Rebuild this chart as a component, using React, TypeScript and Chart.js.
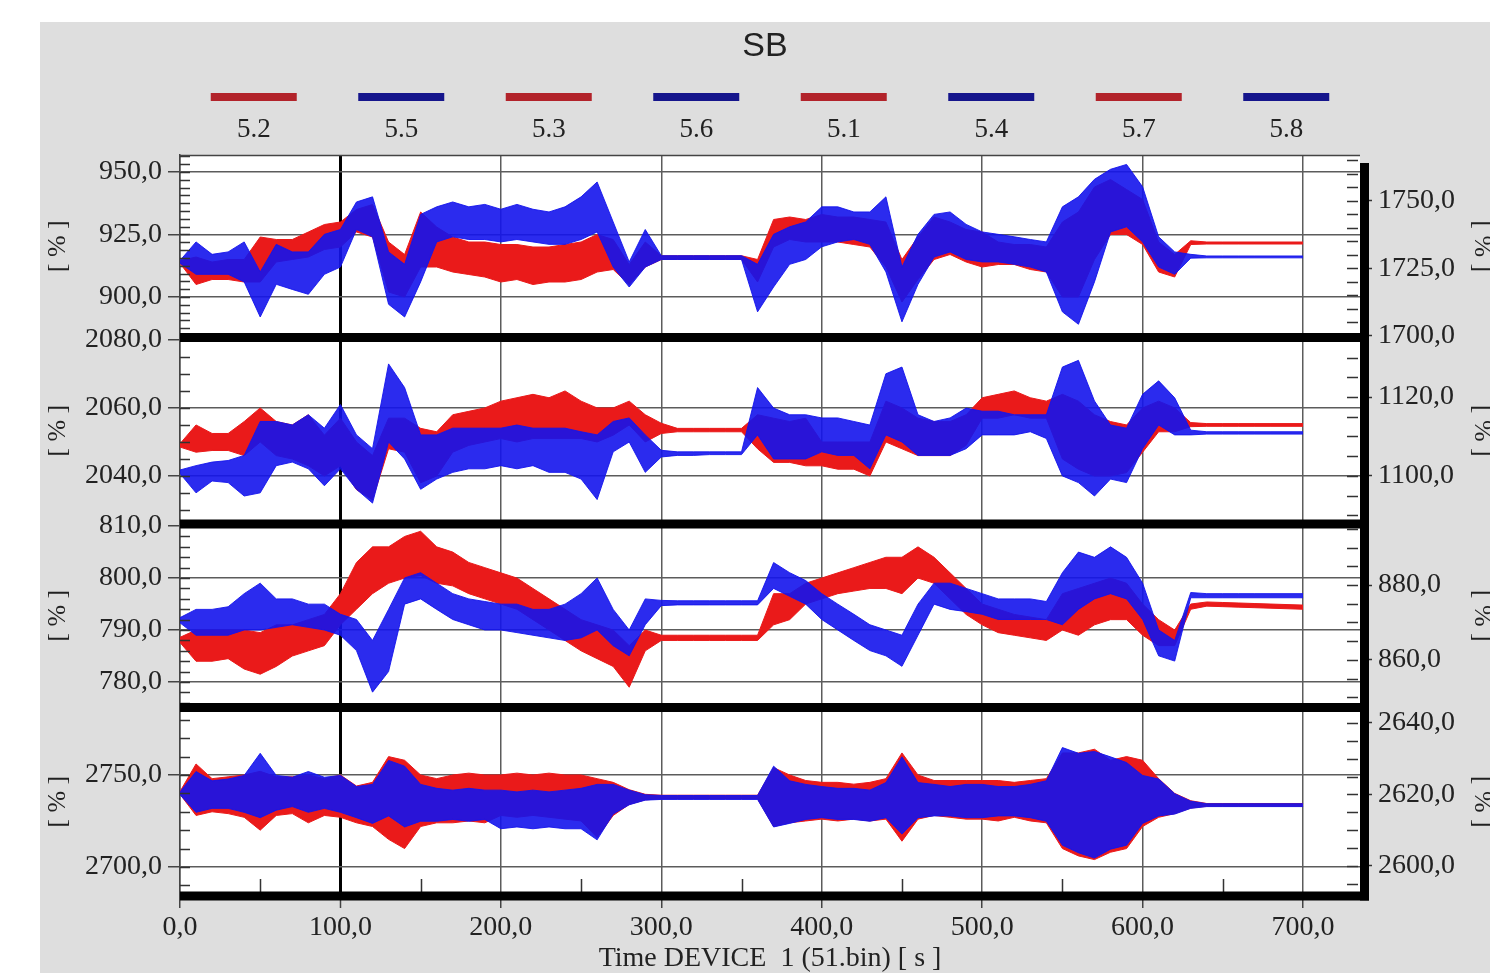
import React, { useEffect, useRef } from 'react';
import { Chart, registerables } from 'chart.js';

Chart.register(...registerables);

// ---------- DATA (min/max envelopes per 10 s) ----------
const TIME = [0,10,20,30,40,50,60,70,80,90,100,110,120,130,140,150,160,170,180,190,200,210,220,230,240,250,260,270,280,290,300,310,320,330,340,350,360,370,380,390,400,410,420,430,440,450,460,470,480,490,500,510,520,530,540,550,560,570,580,590,600,610,620,630,640,650,660,670,680,690,700];

const X_TICKS = [0, 100, 200, 300, 400, 500, 600, 700];

// Panel 1: 5.2 (red, left axis) / 5.5 (blue, right axis)
const P1_LEFT_TICKS = [900, 925, 950];
const P1_RIGHT_TICKS = [1700, 1725, 1750];
const S52_LO = [913.5,905,907,907,906,906,914,915,916,919,
920,926,924,902,900,912,912,910,909,908,
906,907,905,906,906,907,910,911,905,912,
915,915,915,915,915,915,906,920,923,922,
922,922,921,920,912,898,907,915,917,914,
912,913,913,911,910,900,900,915,925,925,
921,910,908,921,921.2,921.2,921.2,921.2,921.2,921.2,921.2];
const S52_HI = [914.5,916,914,915,915,924,923,923,926,929,
930,935,937,922,917,934,928,924,922,922,
921,921,920,920,921,922,925,923,913,922,
916.5,916.5,916.5,916.5,916.5,916.5,915,931,932,931,
933,932,932,931,930,915,924,932,930,927,
926,922,921,921,920,930,934,944,947,943,
939,922,917,922.5,922,922,922,922,922,922,922];
const S55_LO = [1726.9,1722.8,1722.8,1722.8,1720.0,1707.0,1719.1,1717.2,1715.4,1722.8,
1725.5,1739.4,1736.7,1711.7,1707.0,1720.0,1734.8,1736.7,1735.7,1735.7,
1734.8,1735.7,1734.8,1733.9,1733.9,1735.7,1738.5,1725.5,1718.1,1725.5,
1728.3,1728.3,1728.3,1728.3,1728.3,1728.3,1708.9,1718.1,1726.5,1728.3,
1733.0,1734.8,1735.7,1733.9,1723.7,1705.2,1719.1,1729.2,1731.1,1728.3,
1727.4,1727.4,1726.5,1725.5,1723.7,1708.9,1704.3,1720.0,1738.5,1740.4,
1734.8,1725.5,1722.8,1728.8,1728.9,1728.9,1728.9,1728.9,1728.9,1728.9,1728.9];
const S55_HI = [1727.9,1734.8,1730.2,1731.1,1734.8,1723.7,1733.9,1731.1,1731.1,1737.6,
1739.4,1749.6,1751.5,1731.1,1726.5,1745.0,1747.8,1749.6,1747.8,1748.7,
1746.9,1748.7,1746.9,1745.9,1747.8,1751.5,1757.0,1742.2,1727.4,1739.4,
1729.7,1729.7,1729.7,1729.7,1729.7,1729.7,1726.5,1737.6,1740.4,1742.2,
1747.8,1747.8,1745.9,1745.9,1751.5,1725.5,1737.6,1745.0,1745.9,1741.3,
1738.5,1737.6,1736.7,1735.7,1734.8,1747.8,1751.5,1758.0,1761.7,1763.5,
1755.2,1736.7,1731.1,1730.2,1729.6,1729.6,1729.6,1729.6,1729.6,1729.6,1729.6];

// Panel 2: 5.3 (red, left) / 5.6 (blue, right)
const P2_LEFT_TICKS = [2040, 2060, 2080];
const P2_RIGHT_TICKS = [1100, 1120];
const S53_LO = [2048.5,2047,2047.5,2047.5,2046,2050,2046,2045,2043,2040,
2043,2036,2033,2048,2047,2038,2040,2047,2049,2050,
2051,2050,2051,2051,2051,2051,2050,2052,2055,2050,
2052.5,2053,2053,2053,2053,2053,2048,2044,2044,2043,
2043,2042,2042,2040,2050,2048,2046,2046,2046,2049,
2057,2057,2058,2057,2057,2045,2042,2040,2040,2041,
2047,2053,2053,2054.5,2054.6,2054.6,2054.6,2054.6,2054.6,2054.6,2054.6];
const S53_HI = [2049.5,2055,2052.5,2052.5,2056,2060,2056,2055,2058,2052,
2057,2050,2046,2057,2057,2054,2053,2058,2059,2060,
2062,2063,2064,2063,2065,2062,2060,2060,2062,2058,
2055.5,2054,2054,2054,2054,2054,2058,2057,2056,2057,
2050,2050,2050,2050,2062,2060,2057,2056,2056,2058,
2063,2064,2065,2063,2062,2064,2062,2058,2056,2055,
2060,2062,2060,2055.7,2055.4,2055.4,2055.4,2055.4,2055.4,2055.4,2055.4];
const S56_LO = [1100.6,1095.7,1098.7,1098.3,1094.9,1095.7,1102.6,1103.5,1101.8,1097.5,
1101.8,1096.6,1093.1,1108.6,1104.3,1096.6,1099.2,1100.9,1101.8,1101.8,
1102.6,1101.8,1102.6,1100.9,1100.9,1099.2,1094.0,1106.1,1108.6,1100.9,
1104.8,1105.2,1105.2,1105.4,1105.4,1105.4,1110.4,1104.3,1104.3,1104.3,
1106.1,1105.2,1105.2,1101.8,1110.4,1108.6,1105.2,1105.2,1105.2,1106.9,
1110.4,1110.4,1110.4,1111.2,1109.5,1100.0,1098.3,1094.9,1099.2,1098.3,
1106.9,1112.9,1110.4,1110.4,1110.6,1110.6,1110.6,1110.6,1110.6,1110.6,1110.6];
const S56_HI = [1101.5,1102.6,1103.5,1103.9,1105.2,1113.8,1113.8,1112.9,1115.5,1112.1,
1118.1,1110.4,1106.9,1128.4,1122.4,1110.4,1110.4,1112.1,1112.1,1112.1,
1112.1,1112.9,1112.1,1112.1,1112.1,1111.2,1110.4,1113.8,1114.7,1110.4,
1106.5,1106.1,1106.1,1106.1,1106.1,1106.1,1122.4,1117.2,1115.5,1115.5,
1114.7,1114.7,1113.8,1112.9,1125.9,1127.6,1115.5,1113.8,1114.7,1117.2,
1116.4,1116.4,1115.5,1115.5,1115.5,1127.6,1129.3,1119.0,1112.9,1112.1,
1120.7,1124.1,1119.8,1111.6,1111.2,1111.2,1111.2,1111.2,1111.2,1111.2,1111.2];

// Panel 3: 5.1 (red, left) / 5.4 (blue, right)
const P3_LEFT_TICKS = [780, 790, 800, 810];
const P3_RIGHT_TICKS = [860, 880];
const S51_LO = [787.6,784,784,784.5,782.5,781.5,783,785,786,787,
791,794,797,799,800,800.5,799,798.5,797,796,
795,794,792,790,788,786,784.5,783,779,786,
788,788,788,788,788,788,788,791,792,795,
796,797,797.5,798,798,797,800,799,796,793,
791,789.5,789,788.5,788,790,789,791,792,792,
789,787,787,794,794.6,794.5,794.4,794.3,794.2,794.1,794.0];
const S51_HI = [788.6,790,790,790,790,789.5,791,791,792,793,
797,803,806,806,808,809,806,805,803,802,
801,800,798,796,794,792,791,790,787,790,
789,789,789,789,789,789,789,797,797,799,
800,801,802,803,804,804,806,804,801,798,
795,794,793,792.5,792,797,798,799,800,799,
795,792,790,795,795.4,795.3,795.2,795.1,795.0,794.9,794.8];
const S54_LO = [869.9,866.6,866.6,866.6,868.0,868.0,868.7,869.4,868.7,868.0,
866.6,862.5,851.4,856.9,874.9,876.3,873.5,870.8,869.4,868.0,
868.0,867.3,866.6,865.9,865.2,865.9,868.0,863.8,861.1,869.4,
874.5,874.7,874.7,874.7,874.7,874.7,874.7,879.1,877.0,874.9,
870.8,868.0,865.2,862.5,861.1,858.3,866.6,874.9,873.5,872.9,
872.2,870.8,870.8,870.8,870.8,869.4,873.5,876.3,877.7,876.3,
870.8,861.1,859.7,876.6,876.6,876.6,876.6,876.6,876.6,876.6,876.6];
const S54_HI = [871.3,873.5,873.5,874.2,877.7,880.5,876.3,876.3,874.9,874.9,
872.2,870.8,865.2,873.5,881.9,883.3,880.5,877.7,876.3,875.6,
874.9,874.9,873.5,873.5,874.9,877.7,881.9,873.5,868.0,876.3,
875.9,875.8,875.8,875.8,875.8,875.8,875.8,886.0,883.3,881.2,
877.7,874.9,872.2,869.4,868.0,866.6,874.9,880.5,880.5,879.1,
877.7,876.3,876.3,876.3,875.6,883.3,888.8,887.4,890.2,887.4,
880.5,868.0,865.2,878.0,877.7,877.7,877.7,877.7,877.7,877.7,877.7];

// Panel 4: 5.7 (red, left) / 5.8 (blue, right)
const P4_LEFT_TICKS = [2700, 2750];
const P4_RIGHT_TICKS = [2600, 2620, 2640];
const S57_LO = [2739.5,2728,2730,2729,2727,2720,2728,2729,2724,2728,
2727,2724,2722,2715,2710,2722,2724,2724,2725,2724,
2728,2727,2728,2727,2726,2725,2716,2728,2734,2736.5,
2737,2737,2737,2737,2737,2737,2737,2722,2724,2725,
2726,2725,2726,2725,2726,2714,2726,2728,2727,2726,
2726,2725,2727,2725,2724,2710,2706,2704,2708,2710,
2722,2727,2729,2732,2733,2733,2733,2733,2733,2733,2733];
const S57_HI = [2741,2756,2748,2749,2750,2752,2749,2749,2750,2748,
2750,2744,2746,2760,2758,2750,2748,2750,2751,2750,
2750,2751,2750,2751,2750,2750,2748,2746,2742,2739.5,
2739,2739,2739,2739,2739,2739,2739,2754,2750,2747,
2746,2746,2745,2746,2748,2762,2750,2747,2747,2747,
2747,2747,2746,2747,2748,2762,2762,2764,2758,2760,
2758,2748,2740,2736,2734.5,2734.5,2734.5,2734.5,2734.5,2734.5,2734.5];
const S58_LO = [2619.9,2615.0,2616.1,2616.1,2615.0,2613.5,2615.6,2616.6,2615.0,2616.1,
2615.0,2613.5,2611.9,2614.0,2610.9,2612.5,2612.5,2613.0,2612.5,2613.0,
2610.4,2610.9,2610.4,2610.9,2610.4,2610.4,2607.3,2614.5,2617.1,2618.4,
2618.6,2618.6,2618.6,2618.6,2618.6,2618.6,2618.6,2610.9,2611.9,2613.0,
2613.5,2613.0,2613.0,2612.5,2613.5,2608.9,2613.5,2614.0,2614.0,2613.5,
2613.5,2614.0,2614.0,2613.5,2612.5,2605.8,2603.7,2602.2,2604.7,2605.8,
2611.9,2614.0,2614.5,2616.1,2616.6,2616.6,2616.6,2616.6,2616.6,2616.6,2616.6];
const S58_HI = [2620.7,2626.4,2623.8,2624.3,2625.3,2631.5,2625.3,2624.8,2626.4,2624.8,
2625.3,2622.2,2622.8,2629.5,2627.9,2622.8,2621.7,2621.2,2621.7,2621.2,
2621.2,2620.7,2621.2,2620.7,2621.2,2621.7,2622.8,2622.8,2621.2,2619.9,
2619.7,2619.7,2619.7,2619.7,2619.7,2619.7,2619.7,2627.9,2623.8,2622.8,
2622.2,2621.7,2621.7,2621.2,2623.3,2630.5,2623.3,2622.8,2622.2,2622.8,
2622.8,2622.2,2622.2,2622.8,2623.8,2633.1,2631.5,2632.0,2630.5,2628.9,
2625.3,2624.3,2620.2,2618.1,2617.4,2617.4,2617.4,2617.4,2617.4,2617.4,2617.4];

const LEGEND_ORDER = ['5.2', '5.5', '5.3', '5.6', '5.1', '5.4', '5.7', '5.8'];

// ---------- STYLE ----------
const SERIF = 'Liberation Serif';
const RED = 'rgb(234,26,26)';
const BLUE = 'rgba(20,20,236,0.9)';
const RED_KEY = '#b2232a';
const BLUE_KEY = '#15158c';
const TEXT = '#222';

const MINOR_STEP: Record<string, number> = {
  yL1: 3.125, yL2: 5, yL3: 2, yL4: 10,
  yR1: 5, yR2: 5, yR3: 5, yR4: 5,
};
const X_MINOR_STEP = 50;

const fmt = (v: number | string) => Number(v).toFixed(1).replace('.', ',');

function band(label: string, lo: number[], hi: number[], color: string, axis: string, order: number) {
  const pts = (arr: number[]) => TIME.map((t, i) => ({ x: t, y: arr[i] }));
  const common = {
    label, borderColor: color, backgroundColor: color, borderWidth: 1,
    pointRadius: 0, tension: 0, yAxisID: axis, order,
  };
  return [
    { ...common, data: pts(hi), fill: false },
    { ...common, data: pts(lo), fill: '-1' },
  ];
}

const KEY_COLOR: Record<string, string> = {
  '5.2': RED_KEY, '5.3': RED_KEY, '5.1': RED_KEY, '5.7': RED_KEY,
  '5.5': BLUE_KEY, '5.6': BLUE_KEY, '5.4': BLUE_KEY, '5.8': BLUE_KEY,
};

function leftAxis(min: number, max: number, ticks: number[], weight: number, stackWeight: number) {
  return {
    type: 'linear', position: 'left', stack: 'panels', stackWeight, weight, min, max,
    afterBuildTicks: (s: any) => { s.ticks = ticks.map((v) => ({ value: v })); },
    afterFit: (s: any) => { s.width = 140; },
    ticks: { callback: fmt, font: { family: SERIF, size: 28 }, color: TEXT, padding: 6, autoSkip: false },
    grid: { color: '#5c5c5c', lineWidth: 1.5, drawTicks: true, tickLength: 12, tickColor: '#444', tickWidth: 1.5 },
    border: { display: true, color: '#444', width: 1.5 },
    title: { display: true, text: '[ % ]', font: { family: SERIF, size: 26, lineHeight: 1 }, color: TEXT, padding: { top: 5, bottom: 0 } },
  };
}

function rightAxis(min: number, max: number, ticks: number[], weight: number, stackWeight: number) {
  return {
    type: 'linear', position: 'right', stack: 'panels', stackWeight, weight, min, max,
    afterBuildTicks: (s: any) => { s.ticks = ticks.map((v) => ({ value: v })); },
    afterFit: (s: any) => { s.width = 130; },
    ticks: { callback: fmt, font: { family: SERIF, size: 28 }, color: TEXT, padding: 6, autoSkip: false },
    grid: { drawOnChartArea: false, drawTicks: true, tickLength: 12, tickColor: '#333', tickWidth: 1.5 },
    border: { display: false },
    title: { display: true, text: '[ % ]', font: { family: SERIF, size: 26, lineHeight: 1 }, color: TEXT, padding: { top: -5, bottom: 0 } },
  };
}

const decor = {
  id: 'decor',
  beforeDraw(chart: any) {
    const { ctx, chartArea: a } = chart;
    ctx.save();
    ctx.fillStyle = '#ffffff';
    ctx.fillRect(a.left, a.top, a.right - a.left, a.bottom - a.top);
    ctx.restore();
  },
  afterDatasetsDraw(chart: any) {
    const { ctx, chartArea: a, scales } = chart;
    ctx.save();
    ctx.strokeStyle = '#333';
    ctx.lineWidth = 1.5;
    ctx.beginPath();
    Object.keys(MINOR_STEP).forEach((id) => {
      const s = scales[id];
      if (!s) return;
      const step = MINOR_STEP[id];
      for (let k = Math.ceil(s.min / step); k * step <= s.max; k++) {
        const y = Math.round(s.getPixelForValue(k * step)) + 0.5;
        if (s.position === 'left') { ctx.moveTo(a.left, y); ctx.lineTo(a.left + 10, y); }
        else { ctx.moveTo(a.right - 13, y); ctx.lineTo(a.right - 2, y); }
      }
    });
    const xs = scales.x;
    for (let k = 1; k * X_MINOR_STEP <= xs.max; k += 2) {
      const x = Math.round(xs.getPixelForValue(k * X_MINOR_STEP)) + 0.5;
      ctx.moveTo(x, a.bottom - 4); ctx.lineTo(x, a.bottom - 17);
    }
    ctx.stroke();
    // top frame
    ctx.strokeStyle = '#444';
    ctx.beginPath();
    ctx.moveTo(a.left, a.top + 0.5); ctx.lineTo(a.right, a.top + 0.5);
    ctx.stroke();
    // thick panel separators
    ctx.fillStyle = '#000';
    ['yL1', 'yL2', 'yL3', 'yL4'].forEach((id) => {
      const s = scales[id];
      ctx.fillRect(a.left, s.bottom - 4.5, a.right + 9 - a.left, 9);
    });
    // thick right frame
    ctx.fillRect(a.right, a.top + 8, 9, a.bottom + 4.5 - a.top - 8);
    ctx.restore();
  },
  afterDraw(chart: any) {
    const { ctx, chartArea: a } = chart;
    const slot = (a.right - a.left) / LEGEND_ORDER.length;
    ctx.save();
    ctx.font = `27px "${SERIF}"`;
    ctx.textAlign = 'center';
    ctx.textBaseline = 'middle';
    LEGEND_ORDER.forEach((lab, i) => {
      const cx = a.left + slot * (i + 0.5);
      ctx.fillStyle = KEY_COLOR[lab];
      ctx.fillRect(cx - 43, a.top - 62, 86, 8);
      ctx.fillStyle = TEXT;
      ctx.fillText(lab, cx, a.top - 25);
    });
    ctx.restore();
  },
};

export default function App() {
  const ref = useRef<HTMLCanvasElement>(null);
  useEffect(() => {
    Chart.defaults.font.family = SERIF;
    const datasets: any[] = [
      ...band('5.2', S52_LO, S52_HI, RED, 'yL1', 1),
      ...band('5.5', S55_LO, S55_HI, BLUE, 'yR1', 0),
      ...band('5.3', S53_LO, S53_HI, RED, 'yL2', 1),
      ...band('5.6', S56_LO, S56_HI, BLUE, 'yR2', 0),
      ...band('5.1', S51_LO, S51_HI, RED, 'yL3', 1),
      ...band('5.4', S54_LO, S54_HI, BLUE, 'yR3', 0),
      ...band('5.7', S57_LO, S57_HI, RED, 'yL4', 1),
      ...band('5.8', S58_LO, S58_HI, BLUE, 'yR4', 0),
    ];
    const chart = new Chart(ref.current as HTMLCanvasElement, {
      type: 'line',
      data: { datasets },
      plugins: [decor],
      options: {
        animation: false,
        responsive: false,
        devicePixelRatio: 1,
        events: [],
        layout: { padding: 0 },
        plugins: {
          legend: { display: false },
          tooltip: { enabled: false },
          title: {
            display: true, text: 'SB', color: TEXT,
            font: { family: 'Liberation Sans', size: 34, weight: 'normal', lineHeight: 1.2 },
            padding: { top: 4.6, bottom: 87.6 },
          },
        },
        scales: {
          x: {
            type: 'linear', position: 'bottom', min: 0, max: 735.5,
            afterBuildTicks: (s: any) => { s.ticks = X_TICKS.map((v) => ({ value: v })); },
            afterFit: (s: any) => { s.height = 77; },
            ticks: { callback: fmt, font: { family: SERIF, size: 28 }, color: TEXT, padding: 3, maxRotation: 0, autoSkip: false },
            grid: {
              color: (c: any) => (c.tick && c.tick.value === 100 ? '#000' : '#5c5c5c'),
              lineWidth: (c: any) => (c.tick && c.tick.value === 100 ? 3 : 1.5),
              drawTicks: true, tickLength: 12, tickColor: '#444', tickWidth: 1.5,
            },
            border: { display: false },
            title: { display: true, text: 'Time DEVICE  1 (51.bin) [ s ]', color: TEXT, font: { family: SERIF, size: 28, lineHeight: 1 }, padding: { top: 0, bottom: 0 } },
          },
          yL1: leftAxis(883.8, 956.8, P1_LEFT_TICKS, 4, 182.5),
          yL2: leftAxis(2025.9, 2080.7, P2_LEFT_TICKS, 3, 186.5),
          yL3: leftAxis(775.1, 810.4, P3_LEFT_TICKS, 2, 183.5),
          yL4: leftAxis(2684.2, 2786.7, P4_LEFT_TICKS, 1, 188.5),
          yR1: rightAxis(1699.4, 1767.0, P1_RIGHT_TICKS, 1, 182.5),
          yR2: rightAxis(1087.8, 1135.1, P2_RIGHT_TICKS, 2, 186.5),
          yR3: rightAxis(847.3, 896.3, P3_RIGHT_TICKS, 3, 183.5),
          yR4: rightAxis(2591.6, 2644.3, P4_RIGHT_TICKS, 4, 188.5),
        } as any,
      } as any,
    });
    return () => chart.destroy();
  }, []);
  return (
    <div style={{ position: 'fixed', left: 40, top: 22, width: 1450, height: 951, background: '#dedede', overflow: 'hidden' }}>
      <canvas ref={ref} width={1450} height={951} style={{ display: 'block' }} />
    </div>
  );
}
